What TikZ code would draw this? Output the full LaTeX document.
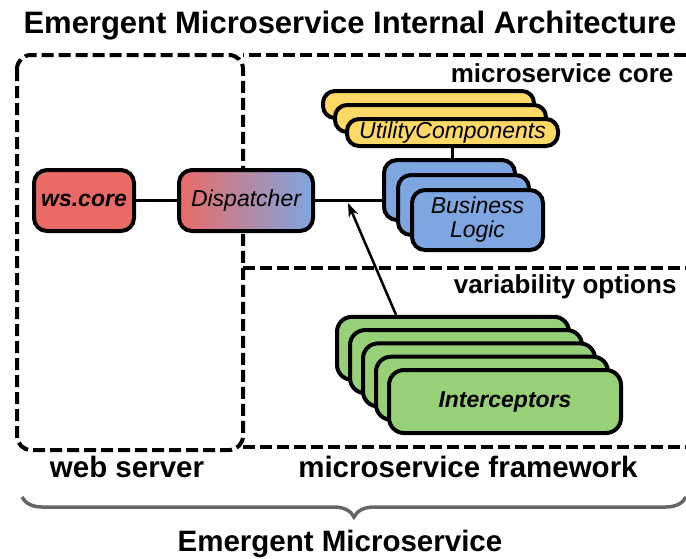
\documentclass[tikz,border=0pt]{standalone}
\usepackage{fontspec}
\setmainfont{Liberation Sans}
\usetikzlibrary{positioning, arrows.meta, decorations.pathreplacing}
\definecolor{wsred}{HTML}{EA6B66}
\definecolor{coreblue}{HTML}{7EA6E0}
\definecolor{utilyellow}{HTML}{FFD966}
\definecolor{icgreen}{HTML}{97D077}
\definecolor{bracegray}{HTML}{666666}

\begin{document}
\begin{tikzpicture}[x=1pt, y=-1pt,
 card/.style={draw=black, line width=4pt, rounded corners=13pt, inner sep=0pt, align=center,
   font=\fontsize{23}{24}\selectfont\itshape},
 frame/.style={draw=black, line width=4pt, dash pattern=on 12pt off 5pt},
 lbl/.style={font=\fontsize{26}{30}\selectfont\bfseries},
 biglbl/.style={font=\fontsize{29.5}{34}\selectfont\bfseries, anchor=base},
 link/.style={line width=3pt}]
\useasboundingbox (0,0) rectangle (686,558);

\node[font=\fontsize{31}{36}\selectfont\bfseries, anchor=base](title) at (350,33){Emergent Microservice Internal Architecture};

% frames
\draw[frame, rounded corners=14pt] (17,55) rectangle (243,450);
\draw[frame] (686,55) -- (243,55);
\draw[frame] (243,268) -- (686,268);
\draw[frame] (243,447) -- (686,447);
\node[lbl, anchor=base east](corelbl) at (677,82){microservice core};
\node[lbl, anchor=base east](varlbl) at (680,293){variability options};
\node[biglbl](wslbl) at (127,477){web server};
\node[biglbl](fwlbl) at (468,477){microservice framework};

% web server
\node[card, fill=wsred, font=\fontsize{23}{24}\selectfont\bfseries\itshape,
  minimum width=100pt, minimum height=61pt](ws) at (84,200.5){ws.core};
\node[card, left color=wsred, right color=coreblue, minimum width=134pt, minimum height=61pt,
  right=41pt of ws](disp){Dispatcher};

% microservice core
\foreach \i in {1,2}
  {\node[card, fill=utilyellow, rounded corners=12pt, minimum width=211pt, minimum height=27pt]
    (uc\i) at ({452.5-12*(3-\i)},{132.5-14*(3-\i)}){};}
\node[card, fill=utilyellow, rounded corners=12pt, minimum width=211pt, minimum height=27pt]
  (uc3) at (452.5,132.5){UtilityComponents};

\foreach \i in {1,2}
  {\node[card, fill=coreblue, minimum width=131pt, minimum height=60pt]
    (bl\i) at ({477.5-14*(3-\i)},{220-15*(3-\i)}){};}
\node[card, fill=coreblue, minimum width=131pt, minimum height=60pt](bl3) at (477.5,220){Business\\Logic};

% variability options
\foreach \i in {1,...,4}
  {\node[card, fill=icgreen, rounded corners=15pt, minimum width=232pt, minimum height=63pt]
    (ic\i) at ({505-13*(5-\i)},{401.5-13.3*(5-\i)}){};}
\node[card, fill=icgreen, rounded corners=15pt, minimum width=232pt, minimum height=63pt,
  font=\fontsize{23}{24}\selectfont\bfseries\itshape](ic5) at (505,401.5){Interceptors};

\draw[link](ws)--(disp);
\draw[link](disp.east)--(disp.east -| bl1.west);
\draw[link](uc3.south)--(uc3.south |- bl1.north);
\coordinate(hit) at (348,203);
\draw[line width=2.5pt, -{Stealth[length=14pt, width=10pt]}]([xshift=-57pt]ic1.north)--(hit);

% bottom brace
\draw[bracegray, line width=3.5pt, decorate, decoration={brace, amplitude=20pt}](686,497)--(22,497);
\node[biglbl](emlbl) at (340,551){Emergent Microservice};

\end{tikzpicture}
\end{document}
